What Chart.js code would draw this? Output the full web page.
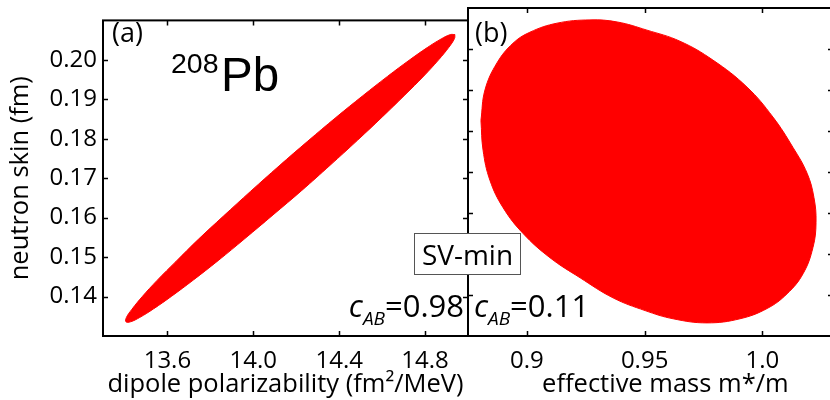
<!DOCTYPE html>
<html lang="en">
<head>
<meta charset="UTF-8">
<title>208Pb neutron skin correlations</title>
<script src="https://cdn.jsdelivr.net/npm/chart.js"></script>
<style>
  body { margin: 0; background: #fff; overflow: hidden; }
  #wrap { position: relative; width: 830px; height: 400px; overflow: hidden; font-family: 'Open Sans', sans-serif; color: #000; }
  canvas { position: absolute; top: 0; }
  .lbl { position: absolute; line-height: 1; white-space: nowrap; }
  .sub { font-size: 19px; font-style: italic; position: relative; top: 8px; }
</style>
</head>
<body>
<div id="wrap">
  <canvas id="chartA" width="480" height="400" style="left:0"></canvas>
  <canvas id="chartB" width="384" height="400" style="left:456px"></canvas>

  <div class="lbl" style="left:112px; top:18px; font-size:27px;">(a)</div>
  <div class="lbl" style="left:475px; top:18px; font-size:27px;">(b)</div>
  <div class="lbl" style="left:171px; top:49px; font-size:28.5px; font-family:'Liberation Sans', Arial, sans-serif;">208</div>
  <div class="lbl" style="left:221px; top:51px; font-size:47.5px; font-family:'Liberation Sans', Arial, sans-serif;">Pb</div>
  <div class="lbl" style="right:366px; top:290px; font-size:31px;"><i>c</i><span class="sub">AB</span>=0.98</div>
  <div class="lbl" style="left:474px; top:290px; font-size:31px;"><i>c</i><span class="sub">AB</span>=0.11</div>
  <div class="lbl" style="left:414px; top:233px; width:105px; height:40px; border:1px solid #555; background:#fff; font-size:28px; text-align:center; line-height:40px;">SV-min</div>
</div>

<script>
// tick values and labels
const skinTicks = [0.14, 0.15, 0.16, 0.17, 0.18, 0.19, 0.20];
const skinTickLabels = ['0.14', '0.15', '0.16', '0.17', '0.18', '0.19', '0.20'];
const polTicks = [13.6, 14.0, 14.4, 14.8];
const polTickLabels = ['13.6', '14.0', '14.4', '14.8'];
const massTicks = [0.9, 0.95, 1.0];
const massTickLabels = ['0.9', '0.95', '1.0'];

// (a) covariance ellipse boundary: dipole polarizability vs neutron skin
const ellipseA_pol = [14.939, 14.937, 14.911, 14.863, 14.794, 14.706, 14.602, 14.485, 14.358, 14.226,
  14.092, 13.961, 13.836, 13.721, 13.620, 13.536, 13.471, 13.428, 13.407, 13.409, 13.435, 13.483,
  13.552, 13.640, 13.744, 13.861, 13.988, 14.120, 14.254, 14.385, 14.510, 14.625, 14.726, 14.810,
  14.875, 14.918, 14.939];
const ellipseA_skin = [0.2064, 0.2054, 0.2032, 0.2000, 0.1959, 0.1911, 0.1856, 0.1796, 0.1733, 0.1669,
  0.1607, 0.1547, 0.1491, 0.1442, 0.1401, 0.1369, 0.1347, 0.1336, 0.1336, 0.1347, 0.1368, 0.1400,
  0.1441, 0.1489, 0.1545, 0.1604, 0.1667, 0.1731, 0.1794, 0.1854, 0.1909, 0.1958, 0.1999, 0.2031,
  0.2053, 0.2064, 0.2064];

// (b) covariance ellipse boundary: effective mass vs neutron skin
const ellipseB_mass = [0.8805, 0.8822, 0.8873, 0.8941, 0.9013, 0.9128, 0.9268, 0.9383, 0.9510, 0.9650,
  0.9790, 0.9935, 1.0045, 1.0130, 1.0190, 1.0219, 1.0228, 1.0215, 1.0173, 1.0105, 1.0020, 0.9905,
  0.9765, 0.9621, 0.9502, 0.9366, 0.9226, 0.9098, 0.8984, 0.8899, 0.8843, 0.8814, 0.8805];
const ellipseB_skin = [0.1826, 0.1900, 0.1966, 0.2014, 0.2041, 0.2063, 0.2071, 0.2066, 0.2046, 0.2019,
  0.1973, 0.1907, 0.1834, 0.1760, 0.1697, 0.1638, 0.1577, 0.1516, 0.1452, 0.1403, 0.1367, 0.1342,
  0.1332, 0.1342, 0.1362, 0.1393, 0.1442, 0.1491, 0.1550, 0.1613, 0.1680, 0.1753, 0.1826];

const FONT = "'Open Sans', sans-serif";

// box frame with inward ticks on all four sides
const framePlugin = {
  id: 'frame',
  afterDatasetsDraw(chart, args, opts) {
    const { ctx, chartArea: a, scales } = chart;
    const tl = 5;
    ctx.save();
    ctx.strokeStyle = '#000';
    ctx.lineWidth = 1.5;
    ctx.beginPath();
    opts.xTicks.forEach(v => {
      const px = Math.round(scales.x.getPixelForValue(v)) + 0.5;
      ctx.moveTo(px, a.bottom); ctx.lineTo(px, a.bottom - tl);
      ctx.moveTo(px, a.top); ctx.lineTo(px, a.top + tl);
    });
    opts.yTicks.forEach(v => {
      const py = Math.round(scales.y.getPixelForValue(v)) + 0.5;
      ctx.moveTo(a.left, py); ctx.lineTo(a.left + tl, py);
      ctx.moveTo(a.right, py); ctx.lineTo(a.right - tl, py);
    });
    ctx.stroke();
    ctx.lineWidth = 2;
    ctx.strokeRect(a.left, a.top, a.width, a.height);
    ctx.restore();
  }
};

function toPoints(xs, ys) {
  return xs.map((x, i) => ({ x: x, y: ys[i] }));
}

function ellipseDataset(points) {
  return {
    data: points,
    showLine: true,
    fill: 'shape',
    tension: 0.4,
    pointRadius: 0,
    borderWidth: 1,
    borderColor: '#ff0000',
    backgroundColor: '#ff0000'
  };
}

function xScale(min, max, ticks, labels, title) {
  return {
    type: 'linear',
    min: min,
    max: max,
    grid: { display: false, drawTicks: false },
    border: { display: false },
    afterBuildTicks: s => { s.ticks = ticks.map(v => ({ value: v })); },
    afterFit: s => { s.height = 64; },
    ticks: {
      padding: 11,
      color: '#000',
      font: { family: FONT, size: 24 },
      maxRotation: 0,
      callback: (v, i) => labels[i]
    },
    title: {
      display: true,
      text: title,
      color: '#000',
      padding: { top: 0, bottom: 0 },
      font: { family: FONT, size: 25.5 }
    }
  };
}

const commonOpts = {
  responsive: false,
  animation: false,
  events: [],
  plugins: { legend: { display: false }, tooltip: { enabled: false } }
};

new Chart(document.getElementById('chartA'), {
  type: 'scatter',
  data: { datasets: [ellipseDataset(toPoints(ellipseA_pol, ellipseA_skin))] },
  options: Object.assign({}, commonOpts, {
    layout: { autoPadding: false, padding: { left: 0, right: 12, top: 8, bottom: 0 } },
    plugins: Object.assign({}, commonOpts.plugins, { frame: { xTicks: polTicks, yTicks: skinTicks } }),
    scales: {
      x: xScale(13.3, 15.0, polTicks, polTickLabels, 'dipole polarizability (fm\u00b2/MeV)'),
      y: {
        type: 'linear',
        min: 0.13,
        max: 0.21,
        grid: { display: false, drawTicks: false },
        border: { display: false },
        afterBuildTicks: s => { s.ticks = skinTicks.map(v => ({ value: v })); },
        afterFit: s => { s.width = 103; },
        ticks: {
          padding: 6,
          color: '#000',
          font: { family: FONT, size: 24 },
          callback: (v, i) => skinTickLabels[i]
        },
        title: {
          display: true,
          text: 'neutron skin (fm)',
          color: '#000',
          padding: { top: 5, bottom: 0 },
          font: { family: FONT, size: 25.5 }
        }
      }
    }
  }),
  plugins: [framePlugin]
});

new Chart(document.getElementById('chartB'), {
  type: 'scatter',
  data: { datasets: [ellipseDataset(toPoints(ellipseB_mass, ellipseB_skin))] },
  options: Object.assign({}, commonOpts, {
    layout: { autoPadding: false, padding: { left: 12, right: 7, top: 8, bottom: 0 } },
    plugins: Object.assign({}, commonOpts.plugins, { frame: { xTicks: massTicks, yTicks: skinTicks } }),
    scales: {
      x: xScale(0.875, 1.03, massTicks, massTickLabels, '\u2002\u2002\u2009effective mass m*/m'),
      y: { type: 'linear', min: 0.13, max: 0.21, display: false }
    }
  }),
  plugins: [framePlugin]
});
</script>
</body>
</html>
